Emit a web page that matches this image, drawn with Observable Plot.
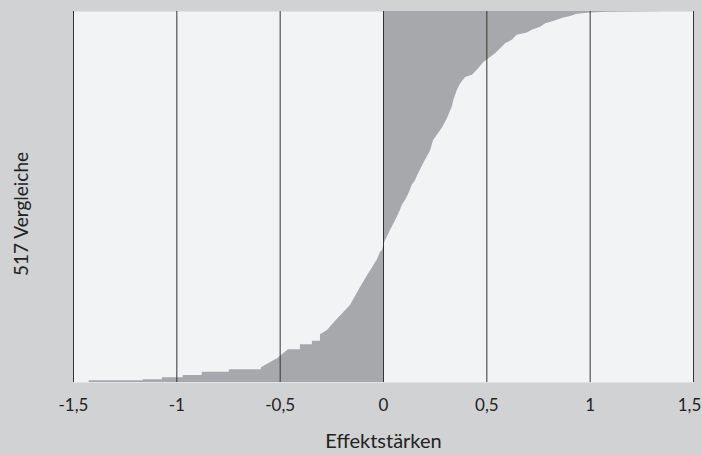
<!DOCTYPE html>
<html>
<head>
<meta charset="utf-8">
<script src="https://cdn.jsdelivr.net/npm/d3@7"></script>
<script src="https://cdn.jsdelivr.net/npm/@observablehq/plot@0.6"></script>
<style>
  html, body { margin: 0; padding: 0; background: #d1d2d4; }
</style>
</head>
<body>
<div id="chart"></div>
<script>
// Sorted effect sizes (rank of comparison, effect size)
const ranks = [0, 2.4, 2.4, 3.8, 3.8, 6.5, 6.5, 9.8, 9.8, 14.4, 14.4, 17.7, 17.7, 20.5, 33, 45.6, 45.6, 52.5, 52.5, 57.6, 57.6, 66.5, 72.5, 82.2, 107.3, 132.4, 149, 159, 163, 170, 181, 184,
  191, 198, 207, 212, 221, 230, 240, 247, 254, 263, 275, 281, 288, 305, 323, 337, 355, 367, 384, 393, 407, 416, 425, 428, 435, 446, 451, 458, 465, 472, 477, 484, 487, 491, 495, 500, 503, 508, 510, 513, 515, 516, 517];
const effects = [-1.424, -1.424, -1.162, -1.162, -1.070, -1.070, -0.969, -0.969, -0.877, -0.877, -0.746, -0.746, -0.591, -0.591, -0.513, -0.460, -0.402, -0.402, -0.344, -0.344, -0.305, -0.305, -0.271, -0.242, -0.160, -0.111, -0.077, -0.055, -0.047, -0.031, -0.015, -0.005,
  0.001, 0.010, 0.026, 0.034, 0.050, 0.066, 0.082, 0.091, 0.107, 0.123, 0.139, 0.155, 0.165, 0.194, 0.228, 0.242, 0.286, 0.308, 0.333, 0.340, 0.357, 0.373, 0.397, 0.430, 0.454, 0.486, 0.510, 0.542, 0.567, 0.591, 0.623, 0.647, 0.696, 0.720, 0.760, 0.785, 0.823, 0.872, 0.906, 0.938, 1.002, 1.083, 1.374];
const total = 517;
const xTicks = [-1.5, -1, -0.5, 0, 0.5, 1, 1.5];
const xTickLabels = ["-1,5", "-1", "-0,5", "0", "0,5", "1", "1,5"];
const xTitle = "Effektstärken";
const yTitle = "517 Vergleiche";

const data = ranks.map((r, i) => ({rank: r, effect: effects[i]}));
const fmt = (d) => xTickLabels[xTicks.indexOf(d)];
const lastTick = xTicks[xTicks.length - 1];

const chart = Plot.plot({
  width: 702,
  height: 455,
  marginLeft: 73,
  marginRight: 9,
  marginTop: 11,
  marginBottom: 73,
  style: {fontFamily: "Lato, 'Open Sans', sans-serif", fontSize: "17px", color: "#222", background: "#d1d2d4"},
  x: {domain: [-1.5, 1.5]},
  y: {domain: [0, total], axis: null},
  marks: [
    Plot.frame({fill: "#f2f3f5", stroke: null}),
    Plot.areaX(data, {y: "rank", x1: 0, x2: "effect", fill: "#a7a8ab", curve: "linear"}),
    Plot.ruleX(xTicks, {stroke: "#333", strokeWidth: 1}),
    Plot.axisX({ticks: xTicks.slice(0, -1), tickFormat: fmt, tickSize: 0, tickPadding: 16, fontSize: 17, label: null}),
    Plot.axisX({ticks: [lastTick], tickFormat: fmt, tickSize: 0, tickPadding: 16, fontSize: 17, dx: -4, label: null}),
    Plot.text([xTitle], {text: (d) => d, frameAnchor: "bottom", dy: 65, fontSize: 20, fill: "#222"}),
    Plot.text([yTitle], {text: (d) => d, frameAnchor: "left", textAnchor: "middle", rotate: -90, dx: -52, dy: 17, fontSize: 19, fill: "#222"})
  ]
});
document.getElementById("chart").appendChild(chart);
</script>
</body>
</html>
